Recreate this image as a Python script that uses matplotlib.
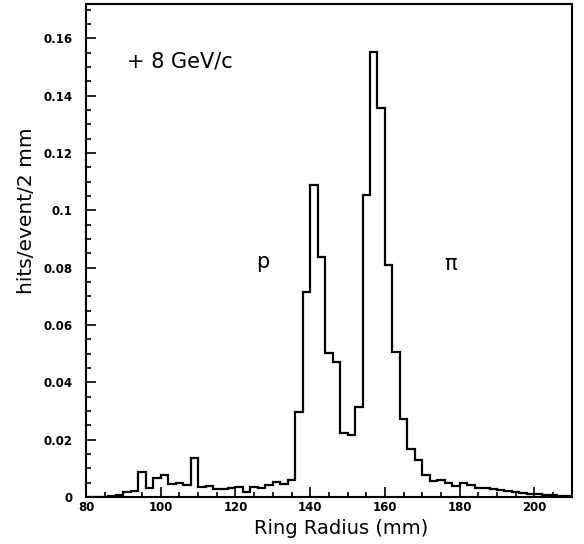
import matplotlib
matplotlib.use('Agg')
import matplotlib.pyplot as plt
import numpy
from matplotlib.ticker import MultipleLocator

# bin edges, 2 mm wide, from 80 to 210 mm
edges = numpy.arange(80, 212, 2)

# hits/event per bin
hits = [0, 0, 0.0001, 0.0003, 0.0006, 0.0016, 0.002, 0.0086, 0.0031, 0.0066,
        0.0076, 0.0047, 0.0049, 0.0041, 0.0135, 0.0034, 0.0038, 0.0028, 0.0029, 0.003,
        0.0036, 0.0017, 0.0034, 0.0031, 0.0042, 0.0052, 0.0044, 0.006, 0.0297, 0.0716,
        0.1088, 0.0836, 0.0503, 0.047, 0.0222, 0.0215, 0.0315, 0.1055, 0.1553, 0.1356,
        0.081, 0.0506, 0.0271, 0.0168, 0.0128, 0.0078, 0.0055, 0.0059, 0.0048, 0.0037,
        0.0048, 0.0043, 0.0033, 0.0031, 0.0027, 0.0024, 0.0021, 0.0019, 0.0015, 0.0012,
        0.0009, 0.0007, 0.0006, 0.0005, 0.0004]

fig = plt.figure(figsize=(5.84, 5.44), dpi=100)
ax = fig.add_axes([0.1473, 0.0864, 0.8317, 0.9062])

ax.stairs(hits, edges, color='black', linewidth=1.6)

ax.set_xlim(80, 210)
ax.set_ylim(0, 0.172)

ax.xaxis.set_major_locator(MultipleLocator(20))
ax.xaxis.set_minor_locator(MultipleLocator(5))
ax.yaxis.set_major_locator(MultipleLocator(0.02))
ax.yaxis.set_minor_locator(MultipleLocator(0.005))
ax.set_yticks([0, 0.02, 0.04, 0.06, 0.08, 0.1, 0.12, 0.14, 0.16])
ax.set_yticklabels(['0', '0.02', '0.04', '0.06', '0.08', '0.1', '0.12', '0.14', '0.16'])

ax.tick_params(which='both', direction='in', top=False, right=False, width=1.2)
ax.tick_params(which='major', length=7)
ax.tick_params(which='minor', length=3.6)
ax.tick_params(axis='y', which='major', pad=10)
ax.tick_params(axis='x', which='major', pad=3)
for lab in ax.get_xticklabels() + ax.get_yticklabels():
    lab.set_fontsize(8.5)
    lab.set_fontweight('bold')

for s in ax.spines.values():
    s.set_linewidth(1.5)

ax.set_xlabel('Ring Radius (mm)', fontsize=14)
ax.xaxis.set_label_coords(0.525, -0.045)
ax.set_ylabel('hits/event/2 mm', fontsize=14.5)
ax.yaxis.set_label_coords(-0.103, 0.58)

ax.text(91, 0.1497, '+ 8 GeV/c', fontsize=15, va='baseline', ha='left')
ax.text(127.2, 0.0799, 'p', fontsize=15, va='baseline', ha='center')
ax.text(177.6, 0.0792, '\u03c0', fontsize=15, va='baseline', ha='center')

fig.savefig('out.png', dpi=100)
